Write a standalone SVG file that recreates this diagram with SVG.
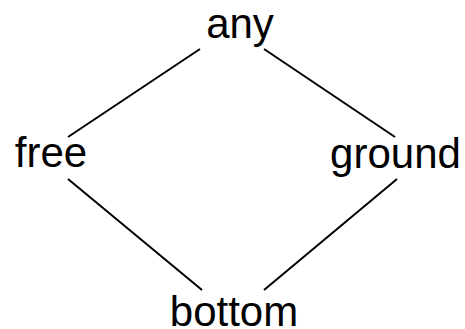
<svg xmlns="http://www.w3.org/2000/svg" width="465" height="329" viewBox="0 0 465 329">
<style>
.lbl{font-family:"Liberation Sans",Arial,sans-serif;font-size:42px;fill:#000;text-anchor:middle}
.edge{stroke:#000;stroke-width:2;fill:none}
</style>
<rect width="465" height="329" fill="#fff"/>
<g id="connectors">
<line class="edge" x1="200" y1="49" x2="68" y2="137"/>
<line class="edge" x1="264" y1="49" x2="395" y2="137"/>
<line class="edge" x1="68" y1="179" x2="202" y2="290"/>
<line class="edge" x1="397" y1="179" x2="264" y2="290"/>
</g>
<g id="any"><text class="lbl" x="240" y="38">any</text></g>
<g id="free"><text class="lbl" x="51" y="167">free</text></g>
<g id="ground"><text class="lbl" x="395.5" y="168">ground</text></g>
<g id="bottom"><text class="lbl" x="234" y="326">bottom</text></g>
</svg>
